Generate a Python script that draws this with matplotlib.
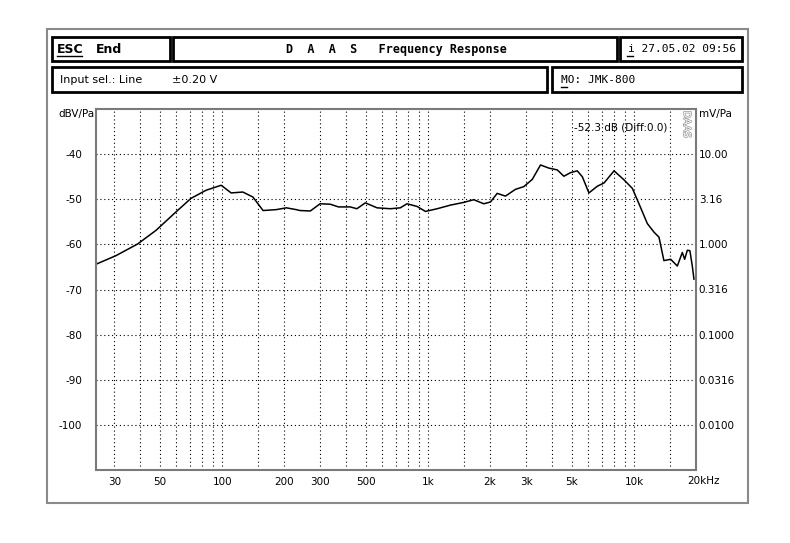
import matplotlib.pyplot as plt
import matplotlib.patheffects as pe
from matplotlib.patches import Rectangle
from matplotlib.transforms import blended_transform_factory, offset_copy

freq = [24.4, 30.5, 38.9, 47.7, 59.7, 70.6, 83.6, 98.9, 110.6, 126, 141, 158,
        183, 205, 229, 239, 268, 299, 335, 367, 419, 451, 496, 565, 656, 733,
        790, 885, 971, 1107, 1284, 1490, 1667, 1864, 2010, 2165, 2376, 2657,
        2918, 3206, 3516, 3862, 4240, 4565, 4920, 5300, 5610, 6040, 6640,
        7150, 8000, 8940, 9820, 10570, 11610, 12510, 13220, 13970, 15070,
        16230, 17160, 17620, 18150, 18680, 19190, 19550]
level = [-64.4, -62.5, -59.9, -56.9, -52.8, -49.8, -48.0, -46.9, -48.6, -48.4,
         -49.5, -52.5, -52.3, -51.9, -52.3, -52.5, -52.6, -51.0, -51.1, -51.7,
         -51.7, -52.1, -50.8, -51.9, -52.1, -51.9, -51.0, -51.6, -52.7, -52.1,
         -51.3, -50.7, -50.1, -51.0, -50.6, -48.7, -49.3, -47.8, -47.2, -45.6,
         -42.4, -43.1, -43.5, -44.9, -44.1, -43.7, -45.0, -48.6, -47.1, -46.4,
         -43.7, -45.7, -47.6, -51.0, -55.4, -57.3, -58.4, -63.6, -63.3, -64.8,
         -61.8, -63.3, -61.3, -61.4, -64.8, -67.7]

grid_f = [30, 40, 50, 60, 70, 80, 90, 100, 150, 200, 300, 400, 500, 600, 700,
          800, 900, 1000, 1500, 2000, 3000, 4000, 5000, 6000, 7000, 8000,
          9000, 10000, 15000]
xtick_f = [30, 50, 100, 200, 300, 500, 1000, 2000, 3000, 5000, 10000]
xtick_lbl = ['30', '50', '100', '200', '300', '500', '1k', '2k', '3k', '5k', '10k']
db_ticks = [-40, -50, -60, -70, -80, -90, -100]
db_lbl = ['-40', '-50', '-60', '-70', '-80', '-90', '-100']
mv_lbl = ['10.00', '3.16', '1.000', '0.316', '0.1000', '0.0316', '0.0100']

W, H = 790, 543
fig = plt.figure(figsize=(W / 100, H / 100), dpi=100)
ax = fig.add_axes([96 / W, 1 - 470 / H, 600 / W, 361 / H])

ax.semilogx(freq, level, color='black', lw=1.1)
ax.set_xlim(24.4, 20000)
ax.set_ylim(-110, -30)

for f in grid_f:
    ax.axvline(f, color='black', lw=0.8, ls=(0, (1, 2.5)), zorder=0)
for d in db_ticks:
    ax.axhline(d, color='black', lw=0.8, ls=(0, (1, 2.5)), zorder=0)

ax.set_xticks(xtick_f)
ax.set_xticklabels(xtick_lbl)
ax.xaxis.set_minor_locator(plt.NullLocator())
ax.set_yticks(db_ticks)
ax.set_yticklabels(db_lbl)
ax.tick_params(axis='x', length=0, pad=5, labelsize=7.5)
ax.tick_params(axis='y', length=0, pad=10, labelsize=7.5)
for s in ax.spines.values():
    s.set_color('#7a7a7a')
    s.set_linewidth(1.5)

ax2 = ax.twinx()
ax2.set_ylim(-110, -30)
ax2.set_yticks(db_ticks)
ax2.set_yticklabels(mv_lbl)
ax2.tick_params(axis='y', length=0, pad=2, labelsize=7.5)
for s in ax2.spines.values():
    s.set_visible(False)

ax.text(-0.002, 1.0, 'dBV/Pa', transform=ax.transAxes, ha='right', va='top', fontsize=7.5)
ax.text(1.005, 1.0, 'mV/Pa', transform=ax.transAxes, ha='left', va='top', fontsize=7.5)
trx = blended_transform_factory(ax.transData, ax.transAxes)
ax.text(20000, 0, '20kHz', transform=offset_copy(trx, fig=fig, x=-9, y=-6, units='dots'),
        ha='left', va='top', fontsize=7.5)
ax.text(0.953, 0.962, '-52.3 dB (Diff:0.0)', transform=ax.transAxes, ha='right',
        va='top', fontsize=7.5)
ax.text(0.985, 0.995, 'DAAS', transform=ax.transAxes, ha='center', va='top',
        rotation=270, fontsize=7, color='white',
        path_effects=[pe.withStroke(linewidth=1, foreground='#999999')])

# header and frame in pixel coordinates
hd = fig.add_axes([0, 0, 1, 1], zorder=5)
hd.set_xlim(0, W)
hd.set_ylim(H, 0)
hd.axis('off')
hd.patch.set_alpha(0)

hd.add_patch(Rectangle((47, 29), 701, 474, fill=False, ec='#8a8a8a', lw=1.5))
boxes = [(52, 37, 118, 24), (173, 37, 444, 24), (620, 37, 122, 24),
         (52, 67, 495, 25), (552, 67, 190, 25)]
for x0, y0, w, h in boxes:
    hd.add_patch(Rectangle((x0, y0), w, h, fill=False, ec='black', lw=2))

hd.text(57, 49.5, 'ESC', fontsize=9, fontweight='bold', va='center')
hd.plot([57, 82], [56, 56], color='black', lw=1)
hd.text(96, 49.5, 'End', fontsize=9, fontweight='bold', va='center')
hd.text(396, 49.5, 'D  A  A  S   Frequency Response', fontsize=8.5, fontweight='bold',
        va='center', ha='center', family='DejaVu Sans Mono')
hd.text(628, 49.5, 'i 27.05.02 09:56', fontsize=8, va='center', family='DejaVu Sans Mono')
hd.plot([627, 633], [56, 56], color='black', lw=1)
hd.text(60, 80, 'Input sel.: Line', fontsize=8, va='center')
hd.text(172, 80, '\u00b10.20 V', fontsize=8, va='center')
hd.text(561, 80, 'MO: JMK-800', fontsize=8, va='center', family='DejaVu Sans Mono')
hd.plot([561, 567], [87, 87], color='black', lw=1)

fig.savefig('out.png', dpi=100)
